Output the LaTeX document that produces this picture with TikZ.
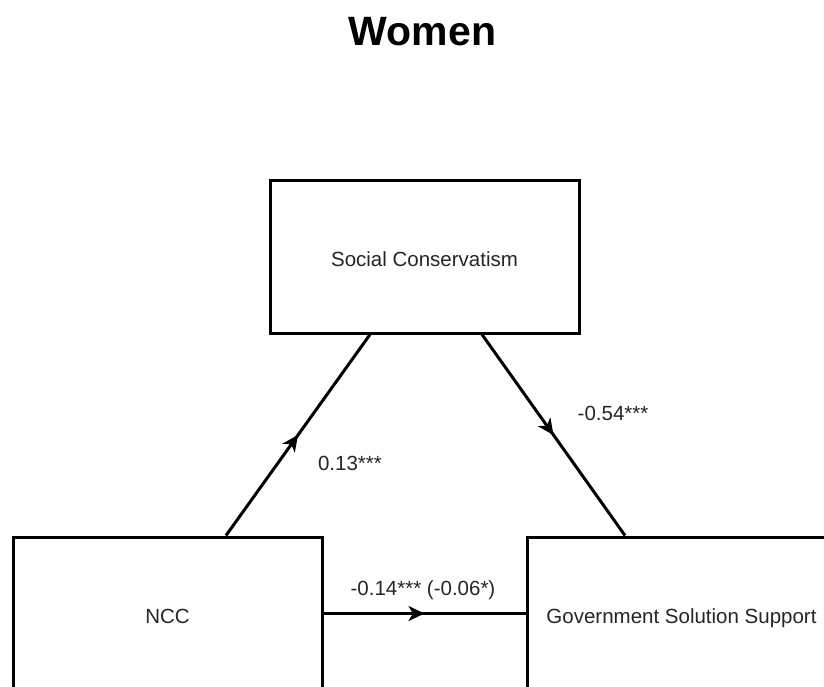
\documentclass[tikz,border=0pt]{standalone}
\usepackage{fontspec}
\setmainfont{Liberation Sans}
\usetikzlibrary{arrows.meta,decorations.markings}

\tikzset{
  varbox/.style={draw=black, line width=3pt, fill=white, minimum width=309pt,
    minimum height=153pt, inner sep=0pt, text height=20pt, text depth=0pt,
    font=\fontsize{20.5}{24}\selectfont, text=black!85},
  coef/.style={anchor=base, inner sep=0pt, font=\fontsize{20.5}{24}\selectfont, text=black!85},
  path/.style={line width=3pt, draw=black,
    postaction={decorate},
    decoration={markings, mark=at position 0.5 with
      {\arrow{Stealth[length=16pt,width=15pt,inset=4.5pt]}}}}
}

\begin{document}
\begin{tikzpicture}[x=1pt,y=-1pt]
  \useasboundingbox (0,0) rectangle (824,686);
  \clip (0,0) rectangle (824,686);
  \fill[white] (0,0) rectangle (824,686);

  % title
  \node[anchor=base, inner sep=0pt, font=\fontsize{41}{48}\selectfont\bfseries] (title) at (422.5,45) {Women};

  % variables
  \node[varbox] (sc)  at (424.5,256.5) {Social Conservatism};
  \node[varbox] (ncc) at (167.5,613.5) {NCC};
  \node[varbox] (gss) at (681.5,613.5) {Government Solution Support};

  % attachment points on the box edges
  \coordinate (nccTop) at ([xshift=58.5pt]ncc.north);
  \coordinate (scLeft) at ([xshift=-54.5pt]sc.south);
  \coordinate (scRight) at ([xshift=57.5pt]sc.south);
  \coordinate (gssTop) at ([xshift=-56.5pt]gss.north);

  % paths
  \draw[path] (nccTop) -- (scLeft);
  \draw[path] (scRight) -- (gssTop);
  \draw[path] (ncc.east) -- (gss.west);

  % coefficients
  \node[coef] (a) at (350,470) {0.13***};
  \node[coef] (b) at (613,420) {-0.54***};
  \node[coef] (c) at (423,595) {-0.14*** (-0.06*)};
\end{tikzpicture}
\end{document}
